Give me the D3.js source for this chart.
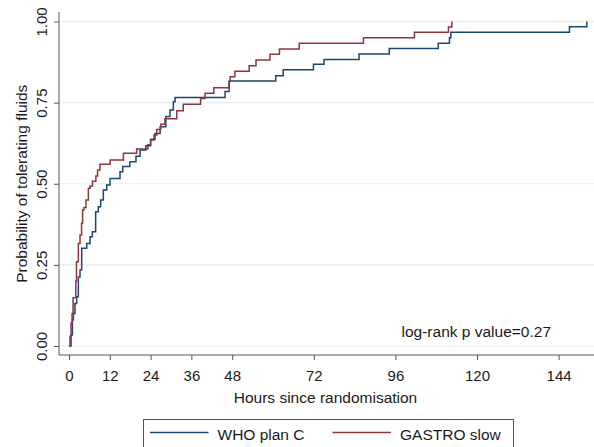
<!DOCTYPE html>
<html>
<head>
<meta charset="utf-8">
<script src="https://cdn.jsdelivr.net/npm/d3@7"></script>
<style>
  html, body { margin: 0; padding: 0; background: #fff; }
  svg { display: block; font-family: "Liberation Sans", Arial, Helvetica, sans-serif; }
</style>
</head>
<body>
<svg id="chart" width="594" height="447"></svg>
<script>
// Kaplan-Meier failure estimates: hours since randomisation vs cumulative probability
const whoHours = [0, 0.6, 1.0, 1.3, 1.76, 2.25, 2.75, 3.24, 3.73, 5.2, 6.18, 6.86, 7.84, 8.63, 9.3, 10.1, 11.1,
  12.06, 15.0, 15.8, 17.9, 19.7, 20.9, 22.6, 24.0, 25.3, 26.8, 28.5, 29.7, 30.7, 31.2, 45.9, 47.1,
  60.8, 63.0, 71.9, 75.0, 85.3, 94.2, 108.6, 111.9, 112.3, 147.2, 152.3];
const whoProb = [0, 0.034, 0.08, 0.10, 0.131, 0.152, 0.213, 0.234, 0.301, 0.316, 0.337, 0.352, 0.414, 0.429, 0.45, 0.481, 0.496,
  0.516, 0.537, 0.553, 0.568, 0.585, 0.604, 0.617, 0.637, 0.655, 0.676, 0.707, 0.727, 0.753, 0.766, 0.784, 0.817,
  0.833, 0.851, 0.868, 0.883, 0.90, 0.917, 0.933, 0.95, 0.967, 0.984, 1.0];

const gastroHours = [0, 0.3, 0.6, 0.9, 1.2, 2.0, 2.2, 2.75, 3.24, 3.7, 4.0, 4.4, 5.0, 5.7, 6.2, 6.9, 7.9, 8.4, 9.1,
  12.1, 16.0, 19.9, 23.2, 24.0, 25.0, 25.8, 27.0, 28.2, 31.7, 33.6, 38.7, 40.0, 42.6, 47.1, 47.4, 48.8,
  53.0, 55.0, 59.1, 61.9, 67.7, 86.6, 101.6, 111.6, 112.6];
const gastroProb = [0, 0.03, 0.07, 0.10, 0.149, 0.20, 0.26, 0.316, 0.342, 0.378, 0.419, 0.427, 0.45, 0.486, 0.493, 0.508, 0.524, 0.542, 0.56,
  0.573, 0.594, 0.607, 0.62, 0.635, 0.65, 0.667, 0.683, 0.70, 0.725, 0.745, 0.763, 0.779, 0.796, 0.815, 0.830, 0.847,
  0.864, 0.881, 0.899, 0.915, 0.933, 0.950, 0.967, 0.983, 1.0];

const seriesNames = ["WHO plan C", "GASTRO slow"];
const seriesColors = ["#1a476f", "#90353b"];
const xTicks = [0, 12, 24, 36, 48, 72, 96, 120, 144];
const yTicks = [0, 0.25, 0.5, 0.75, 1];
const xTitle = "Hours since randomisation";
const yTitle = "Probability of tolerating fluids";
const noteText = "log-rank p value=0.27";

const svg = d3.select("#chart");
const x = d3.scaleLinear().domain([0, 144]).range([69, 558.6]);
const y = d3.scaleLinear().domain([0, 1]).range([346, 21.5]);

const plotLeft = 59, plotRight = 594, plotTop = 12, plotBottom = 355;
const axisColor = "#555";
const textColor = "#1a1a1a";

// horizontal grid lines
svg.append("g").selectAll("line").data(yTicks).join("line")
  .attr("x1", plotLeft + 1).attr("x2", plotRight)
  .attr("y1", d => y(d)).attr("y2", d => y(d))
  .attr("stroke", "#e6eef1").attr("stroke-width", 1.2);

// step curves
const series = [
  whoHours.map((h, i) => [h, whoProb[i]]),
  gastroHours.map((h, i) => [h, gastroProb[i]])
];
const line = d3.line().x(d => x(d[0])).y(d => y(d[1])).curve(d3.curveStepAfter);
series.forEach((s, i) => {
  svg.append("path").datum(s)
    .attr("d", line)
    .attr("fill", "none")
    .attr("stroke", seriesColors[i])
    .attr("stroke-width", 1.5)
    .attr("stroke-linejoin", "miter");
});

// y axis
const yAxis = svg.append("g").attr("transform", `translate(${plotLeft},0)`)
  .call(d3.axisLeft(y).tickValues(yTicks).tickFormat(d3.format(".2f")).tickSize(5));
yAxis.select(".domain").remove();
yAxis.selectAll(".tick line").attr("stroke", axisColor);
yAxis.selectAll(".tick text")
  .attr("x", null).attr("dy", null).attr("y", null)
  .attr("text-anchor", "middle")
  .attr("transform", "translate(-12,0) rotate(-90)")
  .attr("fill", textColor)
  .style("font-size", "15px")
  .style("font-family", "'Liberation Sans', Arial, sans-serif");
svg.append("line").attr("x1", plotLeft).attr("x2", plotLeft)
  .attr("y1", plotTop).attr("y2", plotBottom).attr("stroke", axisColor);

// x axis
const xAxis = svg.append("g").attr("transform", `translate(0,${plotBottom})`)
  .call(d3.axisBottom(x).tickValues(xTicks).tickFormat(d3.format("d")).tickSize(5));
xAxis.select(".domain").remove();
xAxis.selectAll(".tick line").attr("stroke", axisColor);
xAxis.selectAll(".tick text")
  .attr("y", 26).attr("dy", null)
  .attr("fill", textColor)
  .style("font-size", "15px")
  .style("font-family", "'Liberation Sans', Arial, sans-serif");
svg.append("line").attr("x1", plotLeft).attr("x2", plotRight)
  .attr("y1", plotBottom).attr("y2", plotBottom).attr("stroke", axisColor);

// axis titles
svg.append("text").attr("x", (plotLeft + plotRight) / 2 - 1).attr("y", 403)
  .attr("text-anchor", "middle").attr("fill", textColor)
  .style("font-size", "15.5px").text(xTitle);
svg.append("text")
  .attr("transform", `translate(27,${(y(0) + y(1)) / 2}) rotate(-90)`)
  .attr("text-anchor", "middle").attr("fill", textColor)
  .style("font-size", "15.5px").text(yTitle);

// annotation
svg.append("text").attr("x", 401.5).attr("y", 336.5)
  .attr("fill", textColor).style("font-size", "15.5px").text(noteText);

// legend
const legend = svg.append("g");
legend.append("rect").attr("x", 143.5).attr("y", 419.5).attr("width", 370).attr("height", 50)
  .attr("fill", "#fff").attr("stroke", axisColor).attr("stroke-width", 1);
const legendX = [150, 332.5];
seriesNames.forEach((name, i) => {
  legend.append("line").attr("x1", legendX[i]).attr("x2", legendX[i] + 58.5)
    .attr("y1", 432.5).attr("y2", 432.5)
    .attr("stroke", seriesColors[i]).attr("stroke-width", 1.5);
  legend.append("text").attr("x", legendX[i] + 67.5).attr("y", 439.5)
    .attr("fill", textColor).style("font-size", "15.5px").text(name);
});
</script>
</body>
</html>
